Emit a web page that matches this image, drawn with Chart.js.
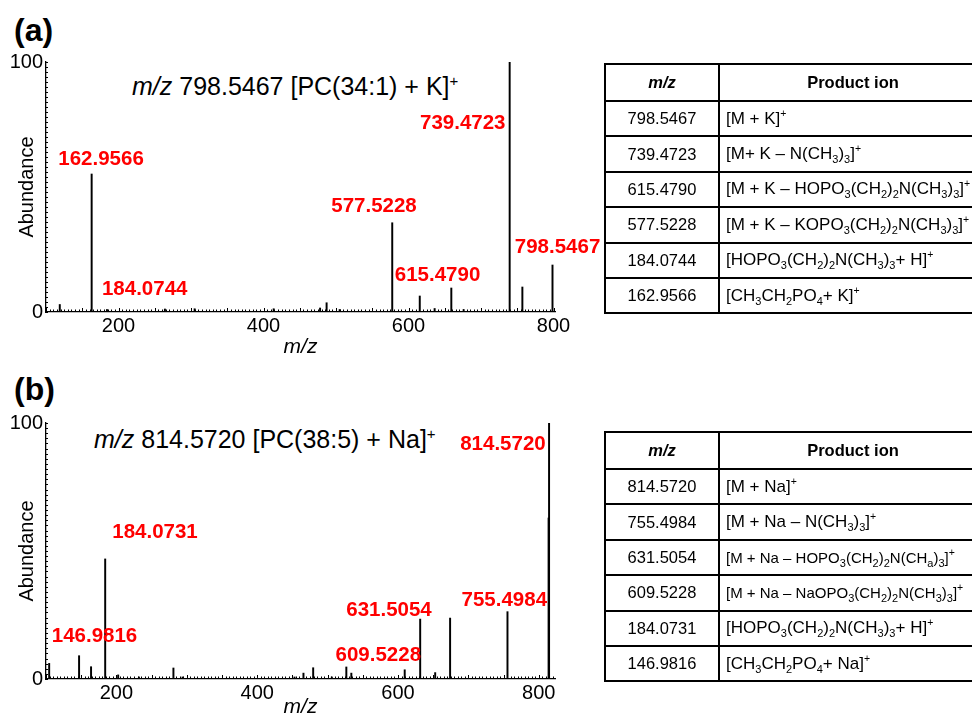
<!DOCTYPE html>
<html>
<head>
<meta charset="utf-8">
<script src="https://cdn.jsdelivr.net/npm/chart.js@4.4.0/dist/chart.umd.min.js"></script>
<style>
  body { margin: 0; width: 972px; height: 718px; overflow: hidden; background: #fff; position: relative;
         font-family: "Liberation Sans", Arial, Helvetica, sans-serif; color: #000; }
  canvas { position: absolute; left: 0; }
  .tag { position: absolute; left: 14px; font-weight: bold; font-size: 32px; line-height: 36px; }
  .ttl { position: absolute; font-size: 25px; line-height: 28px; white-space: nowrap; }
  .ttl sup { font-size: 15px; vertical-align: 9px; line-height: 0; }
  table { position: absolute; left: 604px; border-collapse: collapse; table-layout: fixed; width: 384px; }
  td, th { border: 2px solid #000; padding: 0; white-space: nowrap; }
  th { font-size: 16.5px; font-weight: bold; height: 35px; text-align: center; }
  td { font-size: 17px; height: 33.4px; }
  td.mz { text-align: center; font-size: 16.5px; }
  td.ion { padding-left: 6px; }
  td.small { font-size: 15px; }
  sub { font-size: 11px; vertical-align: -4px; line-height: 0; }
  td sup { font-size: 10.5px; vertical-align: 7px; line-height: 0; }
</style>
</head>
<body>
<div class="tag" style="top:12px">(a)</div>
<div class="ttl" style="left:132px; top:72px"><i>m/z</i> 798.5467 [PC(34:1) + K]<sup>+</sup></div>
<canvas id="chartA" width="610" height="360" style="top:0"></canvas>
<table id="tableA" style="top:63px"></table>

<div class="tag" style="top:371px">(b)</div>
<div class="ttl" style="left:94px; top:425px"><i>m/z</i> 814.5720 [PC(38:5) + Na]<sup>+</sup></div>
<canvas id="chartB" width="610" height="360" style="top:360px"></canvas>
<table id="tableB" style="top:431px"></table>

<script>
// ---- spectrum (a): m/z 798.5467 [PC(34:1) + K]+ ----
const mzA  = [119, 162.9566, 184.0744, 264, 305, 414, 478, 487, 505, 577.5228, 615.4790, 636, 659, 676, 739.4723, 757, 798.5467];
const abA  = [3.0, 55.2,     1.0,      1.2, 1.3, 1.3, 1.6, 3.7, 1.0, 35.7,     6.4,      1.4, 9.6, 1.0, 100,      10,  18.8];
const labTextA = ['162.9566', '184.0744', '739.4723', '577.5228', '615.4790', '798.5467'];
const labMzA   = [175.9, 236.1, 674.8, 552.4, 640.0, 805.5];
const labAbA   = [61.2, 9.2, 75.5, 42.1, 14.7, 25.7];

// ---- spectrum (b): m/z 814.5720 [PC(38:5) + Na]+ ----
const mzB  = [104.5, 146.9816, 164, 184.0731, 202.5, 232, 281, 294, 453, 465.7, 479.5, 506, 526.6, 533.7, 609.5228, 631.5054, 652.8, 674, 755.4984, 813.9, 814.5720];
const abB  = [6.1,   9.1,      4.8, 46.9,     1.6,   0.8, 4.3, 0.8, 0.8, 2.3,   4.4,   0.8, 4.7,   2.3,   3.6,      23.4,     2.5,   23.8, 26.3,   62.9,  100];
const labTextB = ['184.0731', '146.9816', '814.5720', '631.5054', '609.5228', '755.4984'];
const labMzB   = [254.8, 168.9, 749.1, 587.2, 572.0, 751.0];
const labAbB   = [57.3, 16.5, 91.7, 27.0, 9.1, 30.6];

const xTicks = [200, 400, 600, 800];
const yTicks = [0, 100];

// ---- product ion tables ----
const tabMzA = ['798.5467', '739.4723', '615.4790', '577.5228', '184.0744', '162.9566'];
const tabIonA = [
  '[M + K]<sup>+</sup>',
  '[M+ K – N(CH<sub>3</sub>)<sub>3</sub>]<sup>+</sup>',
  '[M + K – HOPO<sub>3</sub>(CH<sub>2</sub>)<sub>2</sub>N(CH<sub>3</sub>)<sub>3</sub>]<sup>+</sup>',
  '[M + K – KOPO<sub>3</sub>(CH<sub>2</sub>)<sub>2</sub>N(CH<sub>3</sub>)<sub>3</sub>]<sup>+</sup>',
  '[HOPO<sub>3</sub>(CH<sub>2</sub>)<sub>2</sub>N(CH<sub>3</sub>)<sub>3</sub>+ H]<sup>+</sup>',
  '[CH<sub>3</sub>CH<sub>2</sub>PO<sub>4</sub>+ K]<sup>+</sup>'
];
const tabMzB = ['814.5720', '755.4984', '631.5054', '609.5228', '184.0731', '146.9816'];
const tabIonB = [
  '[M + Na]<sup>+</sup>',
  '[M + Na – N(CH<sub>3</sub>)<sub>3</sub>]<sup>+</sup>',
  '[M + Na – HOPO<sub>3</sub>(CH<sub>2</sub>)<sub>2</sub>N(CH<sub>a</sub>)<sub>3</sub>]<sup>+</sup>',
  '[M + Na – NaOPO<sub>3</sub>(CH<sub>2</sub>)<sub>2</sub>N(CH<sub>3</sub>)<sub>3</sub>]<sup>+</sup>',
  '[HOPO<sub>3</sub>(CH<sub>2</sub>)<sub>2</sub>N(CH<sub>3</sub>)<sub>3</sub>+ H]<sup>+</sup>',
  '[CH<sub>3</sub>CH<sub>2</sub>PO<sub>4</sub>+ Na]<sup>+</sup>'
];
const smallRowsB = [2, 3];

const FONT = '"Liberation Sans", Arial, Helvetica, sans-serif';

const buildTable = (id, mzList, ionList, smallRows = []) => {
  let html = '<colgroup><col style="width:114px"><col></colgroup>';
  html += '<tr><th><i>m/z</i></th><th>Product ion</th></tr>';
  mzList.forEach((mz, i) => {
    const cls = smallRows.includes(i) ? 'ion small' : 'ion';
    html += `<tr><td class="mz">${mz}</td><td class="${cls}">${ionList[i]}</td></tr>`;
  });
  document.getElementById(id).innerHTML = html;
};

// red peak annotations, placed through the chart scales
const peakLabels = {
  id: 'peakLabels',
  afterDatasetsDraw(chart, args, opts) {
    const { ctx, scales: { x, y } } = chart;
    ctx.save();
    ctx.fillStyle = '#ff0000';
    ctx.font = `bold 20.5px ${FONT}`;
    ctx.textAlign = 'center';
    ctx.textBaseline = 'middle';
    opts.text.forEach((t, i) => ctx.fillText(t, x.getPixelForValue(opts.mz[i]), y.getPixelForValue(opts.ab[i])));
    ctx.restore();
  }
};

// small inward tick marks along both axes
const minorTicks = {
  id: 'minorTicks',
  afterDraw(chart) {
    const { ctx, chartArea, scales: { x, y } } = chart;
    ctx.save();
    ctx.strokeStyle = '#000';
    ctx.lineWidth = 1;
    ctx.beginPath();
    for (let v = Math.ceil(x.min / 5) * 5; v <= x.max; v += 5) {
      const px = Math.round(x.getPixelForValue(v)) + 0.5;
      ctx.moveTo(px, chartArea.bottom);
      ctx.lineTo(px, chartArea.bottom - (v % 50 === 0 ? 4 : 2.5));
    }
    for (let v = 0; v <= 100; v += 2) {
      const py = Math.round(y.getPixelForValue(v)) + 0.5;
      ctx.moveTo(chartArea.left, py);
      ctx.lineTo(chartArea.left + 2, py);
    }
    ctx.stroke();
    ctx.restore();
  }
};

const makeSpectrum = (id, mz, ab, labText, labMz, labAb, xMax, padTop, xHeight) => {
  const ctx = document.getElementById(id).getContext('2d');
  return new Chart(ctx, {
    type: 'bar',
    data: {
      datasets: [{
        data: mz.map((m, i) => ({ x: m, y: ab[i] })),
        backgroundColor: '#000',
        barThickness: 1.3,
      }]
    },
    options: {
      responsive: false, animation: false,
      layout: { padding: { left: 0, right: 55, top: padTop, bottom: 0 } },
      plugins: {
        legend: { display: false }, tooltip: { enabled: false },
        peakLabels: { text: labText, mz: labMz, ab: labAb }
      },
      scales: {
        x: {
          type: 'linear', min: 100, max: xMax, offset: false,
          grid: { display: false, drawTicks: false, offset: false },
          border: { display: true, color: '#000', width: 1.3 },
          afterBuildTicks: s => { s.ticks = xTicks.map(v => ({ value: v })); },
          afterFit: s => { s.height = xHeight; },
          ticks: { color: '#000', padding: 2, maxRotation: 0, autoSkip: false, font: { size: 20, family: FONT } },
          title: { display: true, text: 'm/z', color: '#000', padding: 0, font: { size: 21, style: 'italic', family: FONT } }
        },
        y: {
          min: 0, max: 100,
          grid: { display: false, drawTicks: false },
          border: { display: true, color: '#000', width: 1.3 },
          afterBuildTicks: s => { s.ticks = yTicks.map(v => ({ value: v })); },
          afterFit: s => { s.width = 46; },
          ticks: { color: '#000', padding: 3, font: { size: 20, family: FONT } },
          title: { display: true, text: 'Abundance', color: '#000', padding: { top: 15, bottom: 0 }, font: { size: 20, family: FONT } }
        }
      }
    },
    plugins: [peakLabels, minorTicks]
  });
};

makeSpectrum('chartA', mzA, abA, labTextA, labMzA, labAbA, 802, 62, 48);
makeSpectrum('chartB', mzB, abB, labTextB, labMzB, labAbB, 823, 63, 41);
buildTable('tableA', tabMzA, tabIonA);
buildTable('tableB', tabMzB, tabIonB, smallRowsB);
</script>
</body>
</html>
